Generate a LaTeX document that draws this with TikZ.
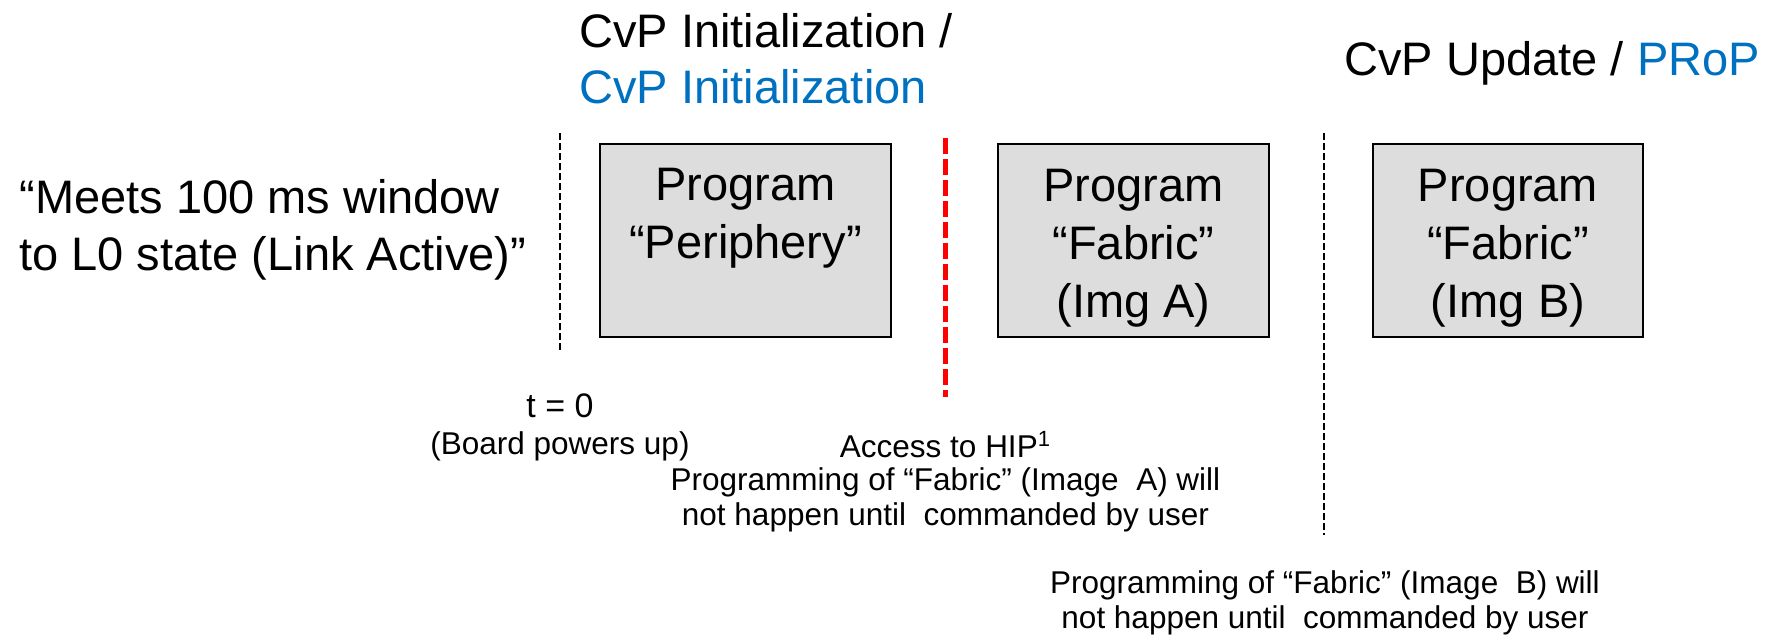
\documentclass[tikz,border=0pt]{standalone}
\usepackage{fontspec}
\setmainfont{Liberation Sans}
\definecolor{titleblue}{HTML}{0070C0}
\definecolor{boxgray}{HTML}{DDDDDD}
\definecolor{markred}{HTML}{FF0000}
\tikzset{
  big/.style={font=\fontsize{23.5}{29}\selectfont, inner sep=0pt},
  small/.style={font=\fontsize{15.75}{17.5}\selectfont, inner sep=0pt},
  progbox/.style={draw=black, line width=1.3pt, fill=boxgray,
                  minimum height=96.5pt, inner sep=0pt},
  divider/.style={draw=black, line width=1pt, dash pattern=on 3.5pt off 1.5pt},
  hipmark/.style={draw=markred, line width=2.5pt, dash pattern=on 8pt off 2.5pt}
}
\begin{document}
\begin{tikzpicture}[x=0.5pt, y=-0.5pt]
\useasboundingbox (0,0) rectangle (1776,634);

% phase headings (multi-line nodes sit on the baseline of their last line)
\node[big, font=\fontsize{23.5}{28}\selectfont, anchor=base west, align=left] (hInit) at (579,103)
  {CvP Initialization /\\\textcolor{titleblue}{CvP Initialization}};
\node[big, anchor=base west] (hUpd) at (1344,75)
  {CvP Update / \textcolor{titleblue}{PRoP}};

% timing requirement
\node[big, font=\fontsize{23.5}{28.5}\selectfont, anchor=base west, align=left] (req) at (19,270)
  {“Meets 100 ms window\\to L0 state (Link Active)”};

% programming steps
\node[progbox, minimum width=145.5pt] (pP) at (745.5,240.5) {};
\node[progbox, minimum width=135.5pt] (pA) at (1133.5,240.5) {};
\node[progbox, minimum width=135pt]   (pB) at (1508,240.5) {};
\node[big, anchor=base, align=center] (pPtxt) at (745.5,258)
  {Program\\“Periphery”};
\node[big, anchor=base, align=center] (pAtxt) at (1133.5,317)
  {Program\\“Fabric”\\(Img A)};
\node[big, anchor=base, align=center] (pBtxt) at (1508,317)
  {Program\\“Fabric”\\(Img B)};

% time markers
\coordinate (d1t) at (560,133);
\coordinate (d1b) at (560,353);
\coordinate (r1t) at (945.5,138);
\coordinate (r1b) at (945.5,397);
\coordinate (d2t) at (1324,133);
\coordinate (d2b) at (1324,535);
\draw[divider] (d1t) -- (d1b);
\draw[hipmark] (r1t) -- (r1b);
\draw[divider] (d2t) -- (d2b);

% marker captions
\node[font=\fontsize{17}{20}\selectfont, inner sep=0pt, anchor=base] (t0) at (560,417) {t = 0};
\node[small, anchor=base] (boot) at (560,454) {(Board powers up)};
\node[small, anchor=base] (hip) at (945.5,457) {Access to HIP\textsuperscript{1}};
\node[small, anchor=base, align=center] (noteA) at (945.5,525)
  {Programming of “Fabric” (Image~ A) will\\not happen until~ commanded by user};
\node[small, anchor=base, align=center] (noteB) at (1325,628)
  {Programming of “Fabric” (Image~ B) will\\not happen until~ commanded by user};
\end{tikzpicture}
\end{document}
